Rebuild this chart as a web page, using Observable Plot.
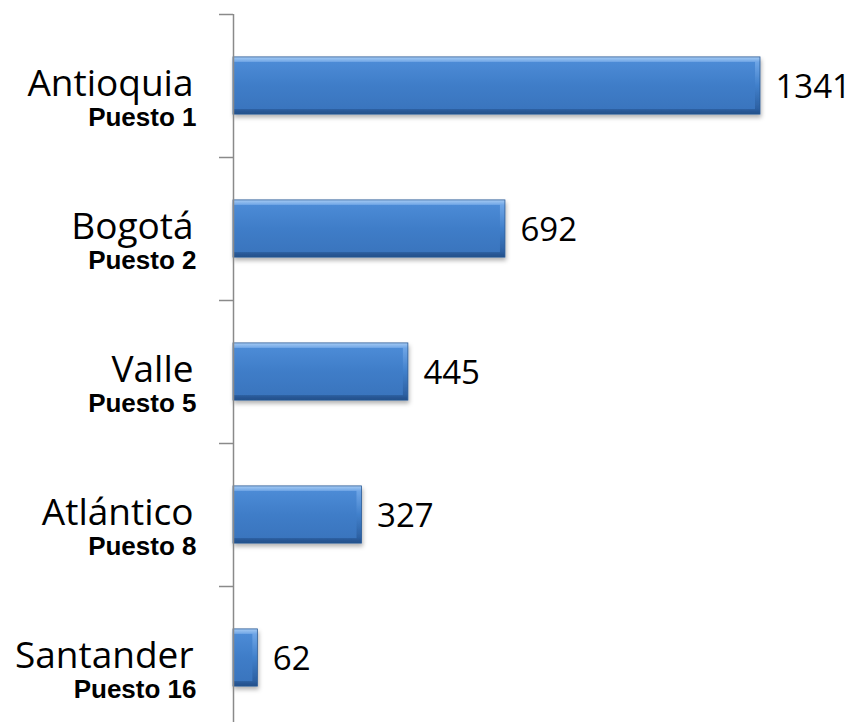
<!DOCTYPE html>
<html>
<head>
<meta charset="utf-8">
<script src="https://cdn.jsdelivr.net/npm/d3@7"></script>
<script src="https://cdn.jsdelivr.net/npm/@observablehq/plot@0.6"></script>
<style>
  html, body { margin: 0; padding: 0; background: #fff; }
  #chart svg { display: block; }
</style>
</head>
<body>
<div id="chart"></div>
<script>
const categories = ["Antioquia", "Bogotá", "Valle", "Atlántico", "Santander"];
const ranks = ["Puesto 1", "Puesto 2", "Puesto 5", "Puesto 8", "Puesto 16"];
const values = [1341, 692, 445, 327, 62];

const data = categories.map((c, i) => ({ name: c, rank: ranks[i], value: values[i], slot: i }));
const slots = d3.range(categories.length + 1);

const chart = Plot.plot({
  width: 855,
  height: 722,
  marginLeft: 233,
  marginRight: 95,
  marginTop: 14,
  marginBottom: 0,
  style: { background: "#fff", overflow: "hidden" },
  x: { domain: [0, d3.max(values)], axis: null },
  y: { domain: [0, categories.length], range: [14, 729], axis: null },
  marks: [
    Plot.rectX(data, {
      x1: 0, x2: "value",
      y1: d => d.slot + 0.3, y2: d => d.slot + 0.7,
      fill: "url(#barOuter)", stroke: "#2A5A96", strokeWidth: 0.8
    }),
    Plot.rectX(data, {
      x1: 0, x2: "value",
      y1: d => d.slot + 0.3, y2: d => d.slot + 0.7,
      insetTop: 5, insetBottom: 5, insetRight: 5,
      fill: "url(#barInner)"
    }),
    Plot.ruleX([0], { y1: 0, y2: categories.length, stroke: "#8a8a8a", strokeWidth: 1.5 }),
    Plot.axisY(slots, { anchor: "left", tickSize: 14, tickFormat: () => "", stroke: "#8a8a8a", strokeWidth: 1.5, label: null }),
    Plot.text(data, {
      x: 0, y: d => d.slot + 0.5, text: "name",
      textAnchor: "end", dx: -40, dy: -2,
      fontSize: 37, fontFamily: "Open Sans", fill: "#000"
    }),
    Plot.text(data, {
      x: 0, y: d => d.slot + 0.5, text: "rank",
      textAnchor: "end", dx: -37, dy: 32,
      fontSize: 26, fontWeight: "bold", fontFamily: "Liberation Sans", fill: "#000",
      letterSpacing: 1.2
    }),
    Plot.text(data, {
      x: "value", y: d => d.slot + 0.5, text: d => String(d.value),
      textAnchor: "start", dx: 15, dy: 1,
      fontSize: 33, fontFamily: "Open Sans", fill: "#000"
    })
  ]
});

const defs = d3.select(chart).insert("defs", ":first-child");
const g1 = defs.append("linearGradient").attr("id", "barOuter").attr("x1", 0).attr("y1", 0).attr("x2", 0).attr("y2", 1);
[[0, "#A6CBF3"], [0.09, "#6EA5E6"], [0.5, "#4180CB"], [0.9, "#2D61A3"], [1, "#224E88"]]
  .forEach(([o, c]) => g1.append("stop").attr("offset", o).attr("stop-color", c));
const g2 = defs.append("linearGradient").attr("id", "barInner").attr("x1", 0).attr("y1", 0).attr("x2", 0).attr("y2", 1);
[[0, "#4C8BD6"], [0.5, "#3F7DC8"], [1, "#3A75BE"]]
  .forEach(([o, c]) => g2.append("stop").attr("offset", o).attr("stop-color", c));
const f = defs.append("filter").attr("id", "barShadow").attr("x", "-10%").attr("y", "-20%").attr("width", "130%").attr("height", "160%");
f.append("feDropShadow").attr("dx", 1).attr("dy", 3).attr("stdDeviation", 2).attr("flood-color", "#000").attr("flood-opacity", 0.3);
d3.select(chart).select("g[aria-label='rect']").attr("filter", "url(#barShadow)");

document.getElementById("chart").appendChild(chart);
</script>
</body>
</html>
